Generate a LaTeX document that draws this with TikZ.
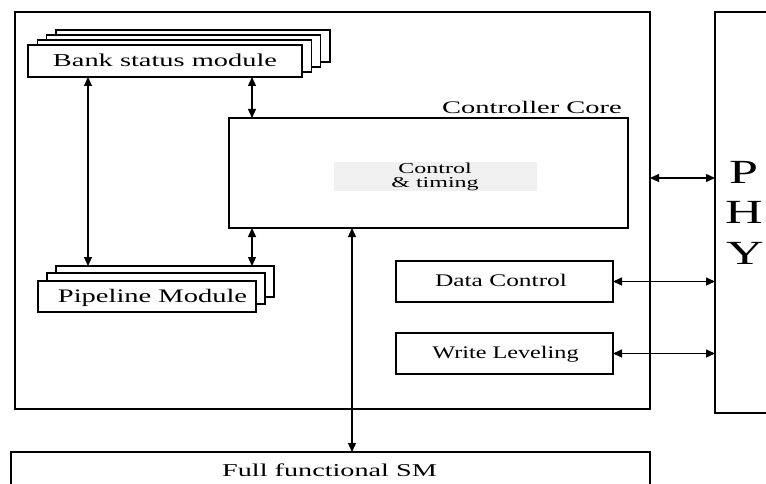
\documentclass[tikz,border=0pt]{standalone}
\usepackage{fontspec}
\usepackage{graphicx}
\setmainfont{Liberation Serif}
\usetikzlibrary{arrows.meta}
\newcommand{\sqtext}[3]{\scalebox{1}[#2]{\fontsize{#1}{#1}\selectfont #3}}
\begin{document}
\begin{tikzpicture}[x=1pt,y=-1pt,
  box/.style={draw, line width=1.2pt, fill=white, inner sep=0pt, outer sep=0pt},
  lbl/.style={inner sep=0pt, outer sep=0pt, anchor=base},
  arr/.style={line width=1.3pt, {Triangle[length=9pt,width=8pt]}-{Triangle[length=9pt,width=8pt]}}]
\useasboundingbox (0,0) rectangle (766,484);

% outer controller core and PHY
\node[box, minimum width=635pt, minimum height=397pt] (outer) at (332.5,210.5) {};
\node[box, minimum width=60pt, minimum height=401pt] (phy) at (745,212.5) {};
\node[lbl] (p) at (743.5,184) {\sqtext{52}{0.65}{P}};
\node[lbl] (h) at (744,223) {\sqtext{52}{0.65}{H}};
\node[lbl] (y) at (745,264) {\sqtext{52}{0.65}{Y}};

% bank status module stack
\node[box, minimum width=274pt, minimum height=32pt] (bank3) at (193,46) {};
\node[box, minimum width=274pt, minimum height=32pt] (bank2) at (183.6,51) {};
\node[box, minimum width=274pt, minimum height=32pt] (bank1) at (174.3,56) {};
\node[box, minimum width=274pt, minimum height=32pt] (bank0) at (165,61) {};
\node[lbl] (banklbl) at (165,67) {\sqtext{28.4}{0.64}{Bank status module}};

% pipeline module stack
\node[box, minimum width=218pt, minimum height=31pt] (pipe2) at (165,281.5) {};
\node[box, minimum width=218pt, minimum height=31pt] (pipe1) at (156,288.5) {};
\node[box, minimum width=218pt, minimum height=31pt] (pipe0) at (147,296.5) {};
\node[lbl] (pipelbl) at (152.5,302.5) {\sqtext{28.5}{0.67}{Pipeline Module}};

% controller core box
\node[lbl] (corelbl) at (532,113.3) {\sqtext{28.5}{0.62}{Controller Core}};
\node[box, minimum width=399pt, minimum height=110pt] (core) at (428.5,173) {};
\node[fill=black!6, inner sep=0pt, minimum width=203pt, minimum height=29pt] (ct) at (435.5,176.5) {};
\node[inner sep=0pt] (ctlbl) at (435,177) {\scalebox{1}[0.63]{\fontsize{24}{21}\selectfont\begin{tabular}{@{}c@{}}Control\\\& timing\end{tabular}}};

% data control and write leveling
\node[box, minimum width=217pt, minimum height=41pt] (data) at (504.5,281.5) {};
\node[lbl] (datalbl) at (501,286.7) {\sqtext{25.4}{0.70}{Data Control}};
\node[box, minimum width=217pt, minimum height=41pt] (write) at (504.5,353.5) {};
\node[lbl] (writelbl) at (505.5,358) {\sqtext{24.2}{0.73}{Write Leveling}};

% full functional SM
\node[box, minimum width=639pt, minimum height=48pt] (sm) at (330.5,476) {};
\node[lbl] (smlbl) at (329.5,476.7) {\sqtext{28.2}{0.64}{Full functional SM}};

% connectors
\draw[arr] ([xshift=60pt]bank0.south west) -- ([xshift=32pt]pipe2.north west);
\draw[arr] ([xshift=224pt]bank0.south west) -- ([xshift=23pt]core.north west);
\draw[arr] ([xshift=23pt]core.south west) -- ([xshift=196pt]pipe2.north west);
\draw[arr] ([xshift=123pt]core.south west) -- ([xshift=341pt]sm.north west);
\coordinate (o5) at ([yshift=32.5pt]outer.east);
\draw[arr] (o5) -- (o5 -| phy.west);
\draw[arr] (data.east) -- (data.east -| phy.west);
\draw[arr] (write.east) -- (write.east -| phy.west);
\end{tikzpicture}
\end{document}
